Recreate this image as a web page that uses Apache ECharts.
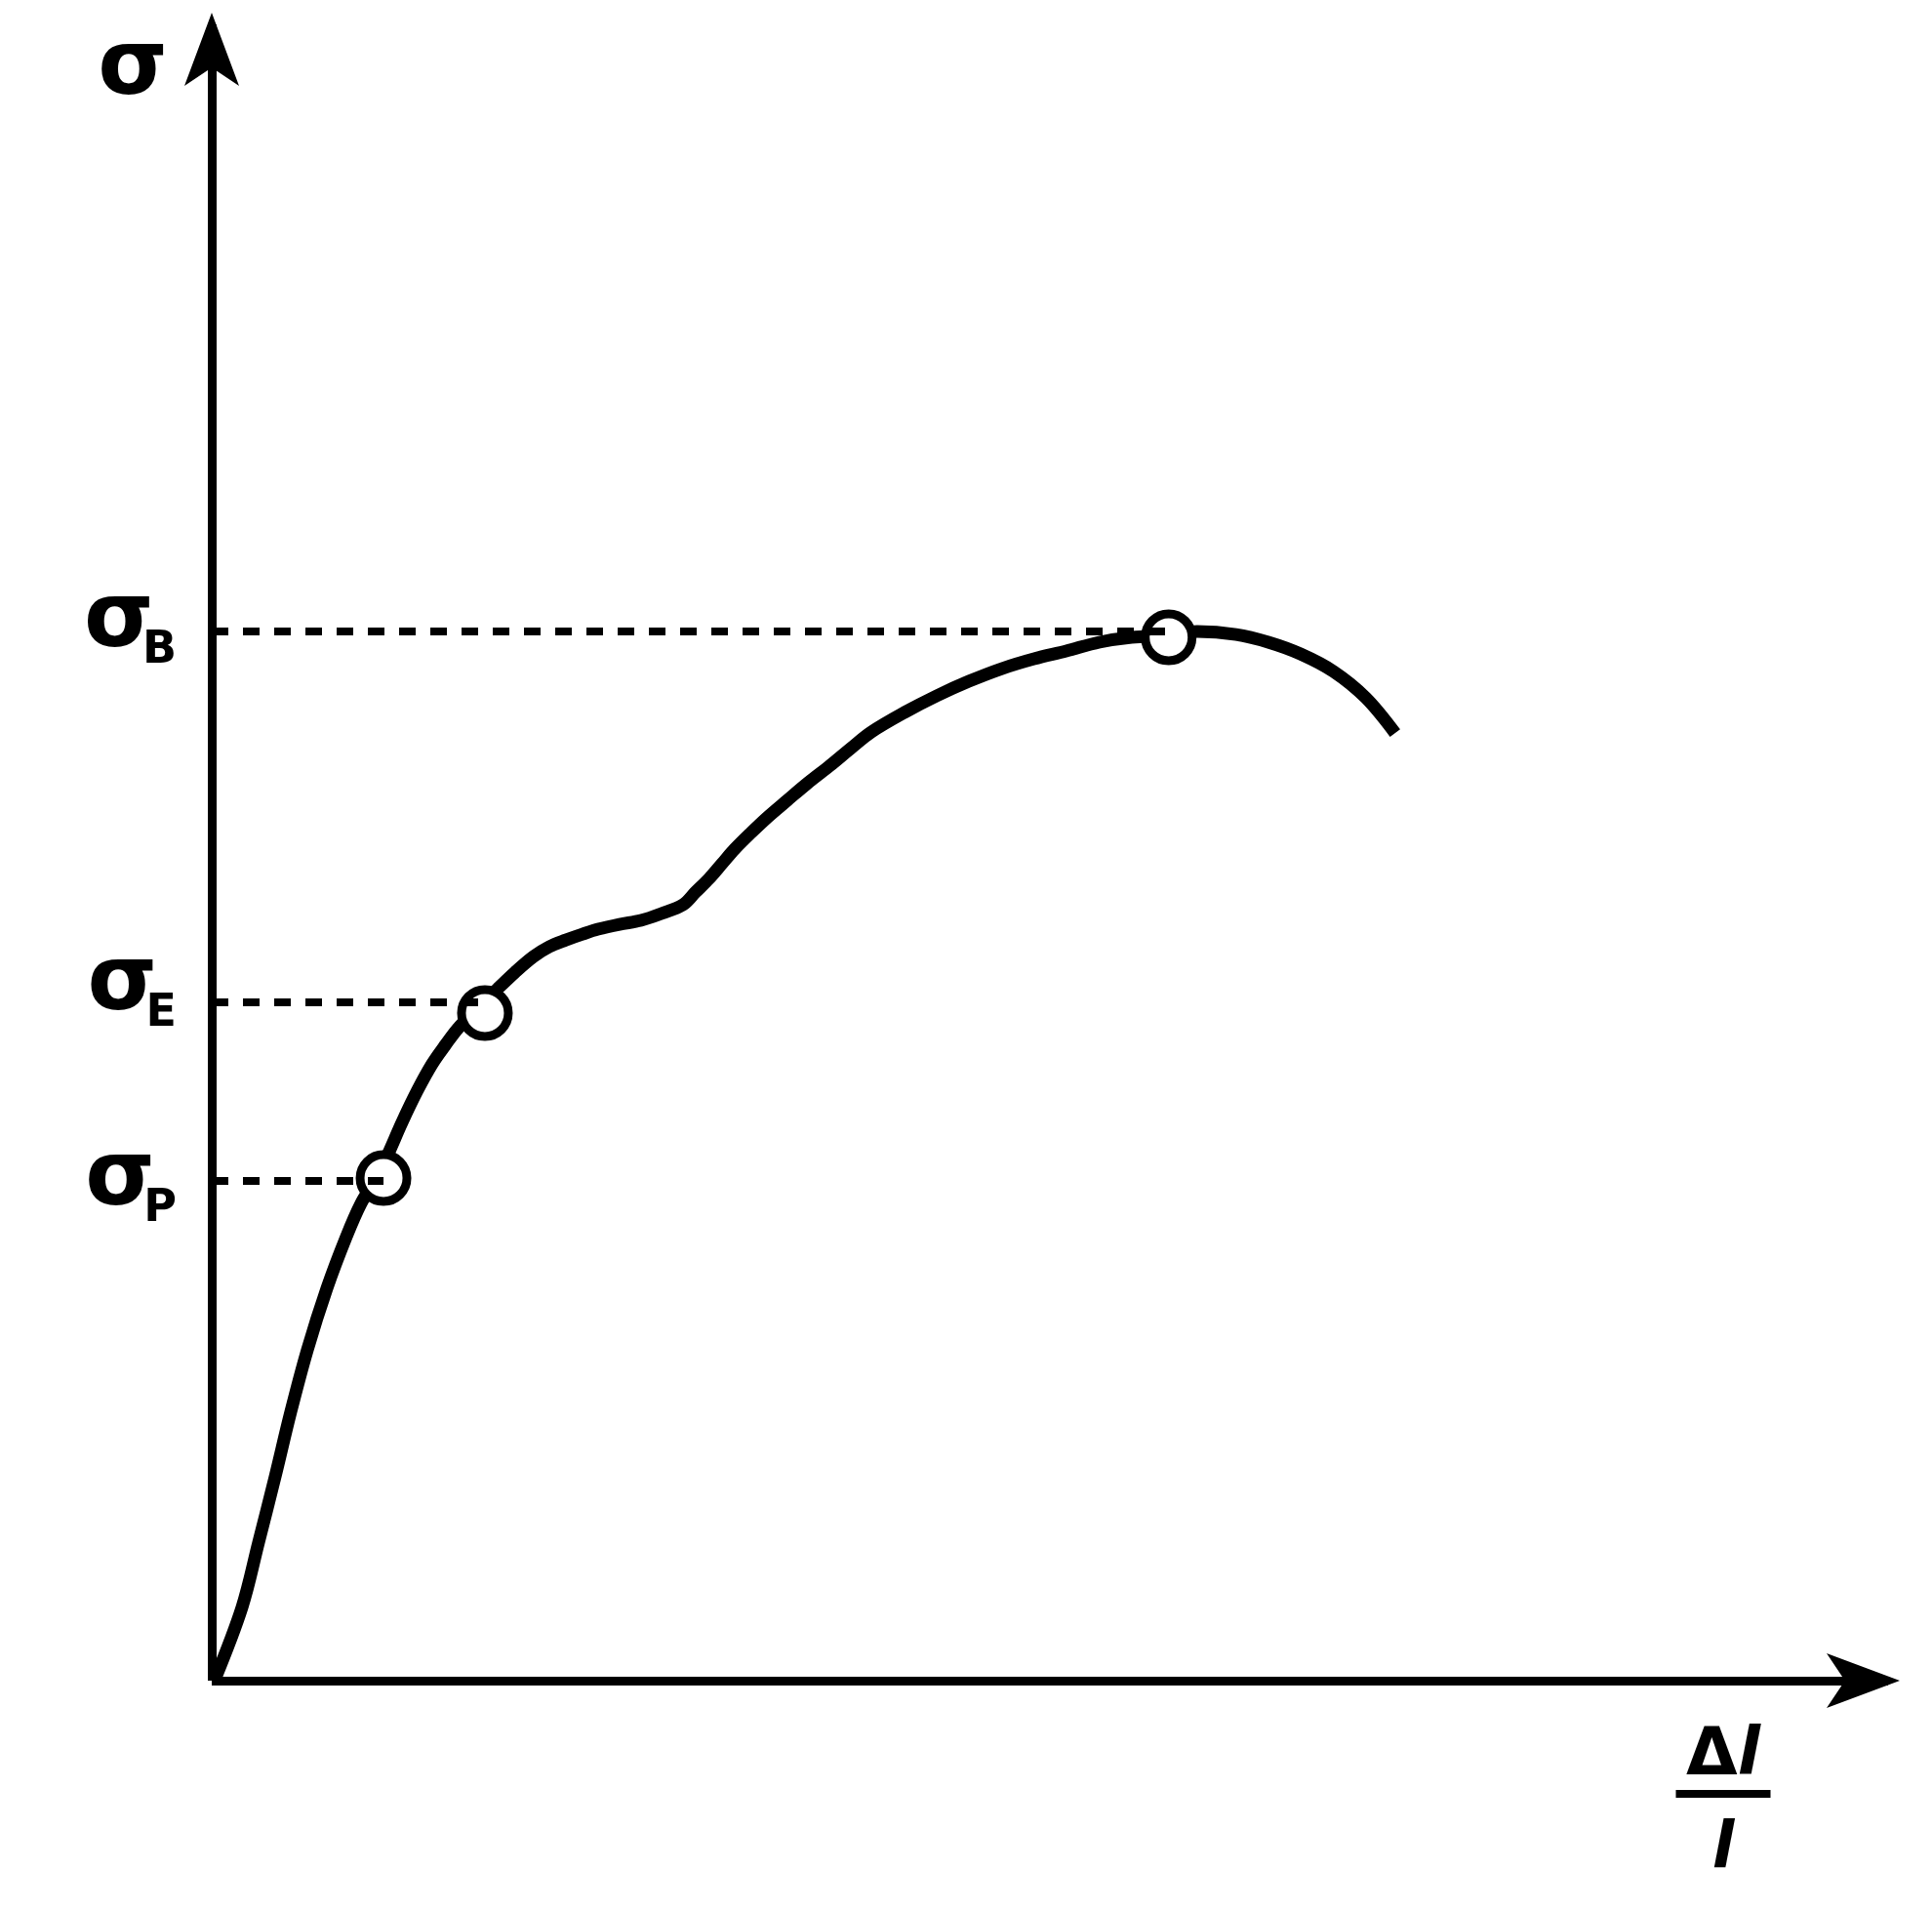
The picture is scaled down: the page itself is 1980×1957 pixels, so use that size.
<!DOCTYPE html>
<html>
<head>
<meta charset="utf-8">
<script src="https://cdn.jsdelivr.net/npm/echarts@6/dist/echarts.min.js"></script>
<style>
html,body{margin:0;padding:0;background:#fff;}
#chart{width:1980px;height:1957px;}
</style>
</head>
<body>
<div id="chart"></div>
<script>
// Stress–strain curve (relative units)
const curveStrain = [0.2, 1.83, 2.84, 3.84, 4.78, 5.79, 6.97, 8.15, 9.04, 9.98, 10.69, 11.52, 12.46, 13.35, 14.18, 14.94, 16.13, 17.31, 18.37, 19.49, 20.44, 21.44, 22.45, 23.39, 24.69, 25.99, 27.23, 28.53, 29.30, 30.12, 30.89, 31.66, 32.66, 33.67, 34.85, 36.03, 37.39, 38.75, 39.93, 41.94, 43.89, 45.84, 47.84, 49.79, 51.74, 53.75, 55.70, 57.89, 59.66, 62.02, 63.97, 65.92, 67.93, 69.88, 71.65];
const curveStress = [0.1, 4.49, 8.49, 12.50, 16.45, 20.27, 24.04, 27.21, 29.25, 30.80, 32.30, 34.21, 36.18, 37.80, 39.00, 40.01, 41.21, 42.40, 43.42, 44.38, 44.98, 45.39, 45.75, 46.05, 46.35, 46.59, 47.01, 47.55, 48.33, 49.16, 50.06, 50.96, 51.97, 52.93, 53.95, 54.96, 56.04, 57.18, 58.13, 59.33, 60.35, 61.24, 62.02, 62.62, 63.10, 63.64, 63.94, 64.05, 64.29, 64.11, 63.64, 62.92, 61.84, 60.23, 58.07];

// Characteristic points: σB (tensile strength), σE (elastic limit), σP (proportional limit)
const levelNames = ['B', 'E', 'P'];
const levelStress = [64.29, 41.57, 30.62];
const pointStrain = [57.94, 16.54, 10.40];
const pointStress = [63.94, 40.91, 30.80];

const axisMax = 101.5;
const yAxisName = 'σ';
const xAxisNum = 'Δ';
const xAxisVar = 'l';

const FONT = 'DejaVu Sans';
// per-label vertical nudge (bottom padding), style only
const labelLift = {B: 20, E: 36, P: 2};

const chart = echarts.init(document.getElementById('chart'), null, {renderer: 'canvas'});

const axisCommon = {
  type: 'value',
  min: 0,
  max: axisMax,
  axisLine: {
    show: true,
    symbol: ['none', 'arrow'],
    symbolSize: [42, 75],
    symbolOffset: [0, 12],
    lineStyle: {color: '#000', width: 9, cap: 'butt'}
  },
  axisTick: {show: false},
  axisLabel: {show: false},
  splitLine: {show: false}
};

const option = {
  backgroundColor: '#fff',
  animation: false,
  grid: {left: 217, right: 45, top: 25, bottom: 235, containLabel: false, outerBoundsMode: 'none'},
  xAxis: Object.assign({}, axisCommon, {
    name: '{D|' + xAxisNum + '}{L|' + xAxisVar + '}\n{bar|}\n{L2|' + xAxisVar + '}',
    nameLocation: 'end',
    nameGap: -169,
    nameTextStyle: {
      align: 'center',
      verticalAlign: 'top',
      padding: [48, 0, 0, 0],
      color: '#000',
      rich: {
        D: {fontFamily: FONT, fontSize: 68, fontWeight: 'bold', lineHeight: 60, color: '#000', align: 'center'},
        L: {fontFamily: FONT, fontSize: 68, fontWeight: 'bold', lineHeight: 60, fontStyle: 'italic', color: '#000', align: 'center'},
        bar: {width: 97, height: 8, lineHeight: 16, backgroundColor: '#000', align: 'center'},
        L2: {fontFamily: FONT, fontSize: 66, fontWeight: 'bold', lineHeight: 100, fontStyle: 'italic', color: '#000', align: 'center'}
      }
    }
  }),
  yAxis: Object.assign({}, axisCommon, {
    name: yAxisName,
    nameLocation: 'end',
    nameGap: -47,
    nameTextStyle: {
      fontFamily: FONT,
      fontSize: 92,
      fontWeight: 'bold',
      color: '#000',
      align: 'right',
      verticalAlign: 'middle',
      padding: [0, 45, 0, 0]
    }
  }),
  series: [
    {
      name: 'levels',
      type: 'line',
      data: [],
      z: 2,
      silent: true,
      markLine: {
        silent: true,
        symbol: ['none', 'none'],
        animation: false,
        lineStyle: {color: '#000', width: 8, type: [17, 15], opacity: 1},
        label: {
          show: true,
          position: 'start',
          distance: 36,
          formatter: function (p) { return '{s|' + yAxisName + '}{sub|' + p.name + '}'; },
          rich: {
            s: {fontFamily: FONT, fontSize: 92, fontWeight: 'bold', lineHeight: 90, width: 60, align: 'left', verticalAlign: 'top', color: '#000'},
            sub: {fontFamily: FONT, fontSize: 46, fontWeight: 'bold', lineHeight: 10, verticalAlign: 'top', padding: [52, 0, 0, 0], color: '#000'}
          }
        },
        emphasis: {disabled: true},
        data: levelNames.map(function (n, i) {
          return [
            {name: n, coord: [0, levelStress[i]], label: {padding: [0, 0, labelLift[n], 0]}},
            {coord: [pointStrain[i], levelStress[i]]}
          ];
        })
      }
    },
    {
      name: 'curve',
      type: 'line',
      z: 3,
      silent: true,
      showSymbol: false,
      symbol: 'none',
      smooth: 0.35,
      lineStyle: {color: '#000', width: 13, cap: 'butt', join: 'round'},
      data: curveStrain.map(function (x, i) { return [x, curveStress[i]]; })
    },
    {
      name: 'points',
      type: 'scatter',
      z: 4,
      silent: true,
      symbol: 'circle',
      symbolSize: 48,
      itemStyle: {color: '#fff', borderColor: '#000', borderWidth: 9, opacity: 1},
      data: pointStrain.map(function (x, i) { return [x, pointStress[i]]; })
    }
  ]
};

chart.setOption(option);
</script>
</body>
</html>
